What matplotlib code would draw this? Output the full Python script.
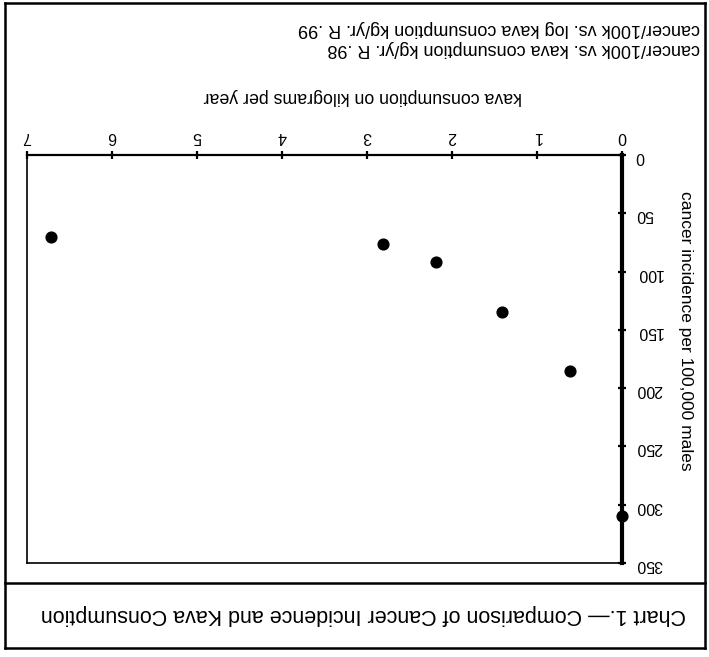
import matplotlib
matplotlib.use('Agg')
import matplotlib.pyplot as plt
from matplotlib.lines import Line2D

plt.rcParams['font.family'] = ['Liberation Sans', 'DejaVu Sans']

# dati (kg/anno, casi per 100.000 maschi)
kava = [6.72, 2.81, 2.19, 1.41, 0.61, 0.0]
cancro = [70, 76, 92, 135, 185, 310]
xticks = [0, 1, 2, 3, 4, 5, 6, 7]
yticks = [0, 50, 100, 150, 200, 250, 300, 350]

W, H = 709, 657
fig = plt.figure(figsize=(W / 100, H / 100), dpi=100)

# area del grafico (pixel -> frazioni della figura)
x0, x1, y0, y1 = 27, 622, 155, 563
ax = fig.add_axes([x0 / W, 1 - y1 / H, (x1 - x0) / W, (y1 - y0) / H])

ax.scatter(kava, cancro, s=60, color='black', zorder=5, clip_on=False)

# il foglio e' capovolto: asse x in alto (0 a destra), asse y a destra (0 in alto)
ax.set_xlim(7, 0)
ax.set_ylim(350, 0)
ax.set_xticks(xticks)
ax.set_yticks(yticks)
ax.xaxis.tick_top()
ax.yaxis.tick_right()
ax.tick_params(axis='x', direction='inout', length=6, width=1.6, pad=5,
               labelsize=11.5, labelrotation=180)
ax.tick_params(axis='y', direction='inout', length=6, width=1.6, pad=7,
               labelsize=11.5, labelrotation=180)
for lab in ax.get_yticklabels():
    lab.set_horizontalalignment('left')

ax.spines['top'].set_linewidth(1.6)
ax.spines['right'].set_linewidth(3)
ax.spines['left'].set_linewidth(1.2)
ax.spines['bottom'].set_linewidth(1.2)

# testi capovolti
fig.text(700 / W, 1 - 28 / H, 'cancer/100k vs. log kava consumption kg/yr. R .99',
         rotation=180, ha='right', va='center', fontsize=13)
fig.text(700 / W, 1 - 49 / H, 'cancer/100k vs. kava consumption kg/yr. R .98',
         rotation=180, ha='right', va='center', fontsize=13)
fig.text(363 / W, 1 - 97 / H, 'kava consumption on kilograms per year',
         rotation=180, ha='center', va='center', fontsize=12.8)
fig.text(685 / W, 1 - 331 / H, 'cancer incidence per 100,000 males',
         rotation=270, ha='center', va='center', fontsize=12.5)
fig.text(363 / W, 1 - 614 / H,
         'Chart 1.\u2014 Comparison of Cancer Incidence and Kava Consumption',
         rotation=180, ha='center', va='center', fontsize=15.5)

# cornice esterna e linea di separazione della didascalia
bx0, bx1, by0, by1, bsep = 5 / W, 705 / W, 1 - 3 / H, 1 - 648 / H, 1 - 583 / H
for xs, ys in [([bx0, bx1], [by0, by0]), ([bx0, bx1], [by1, by1]),
               ([bx0, bx0], [by0, by1]), ([bx1, bx1], [by0, by1]),
               ([bx0, bx1], [bsep, bsep])]:
    fig.add_artist(Line2D(xs, ys, color='black', lw=1.8, transform=fig.transFigure))

fig.savefig('out.png', dpi=100)
